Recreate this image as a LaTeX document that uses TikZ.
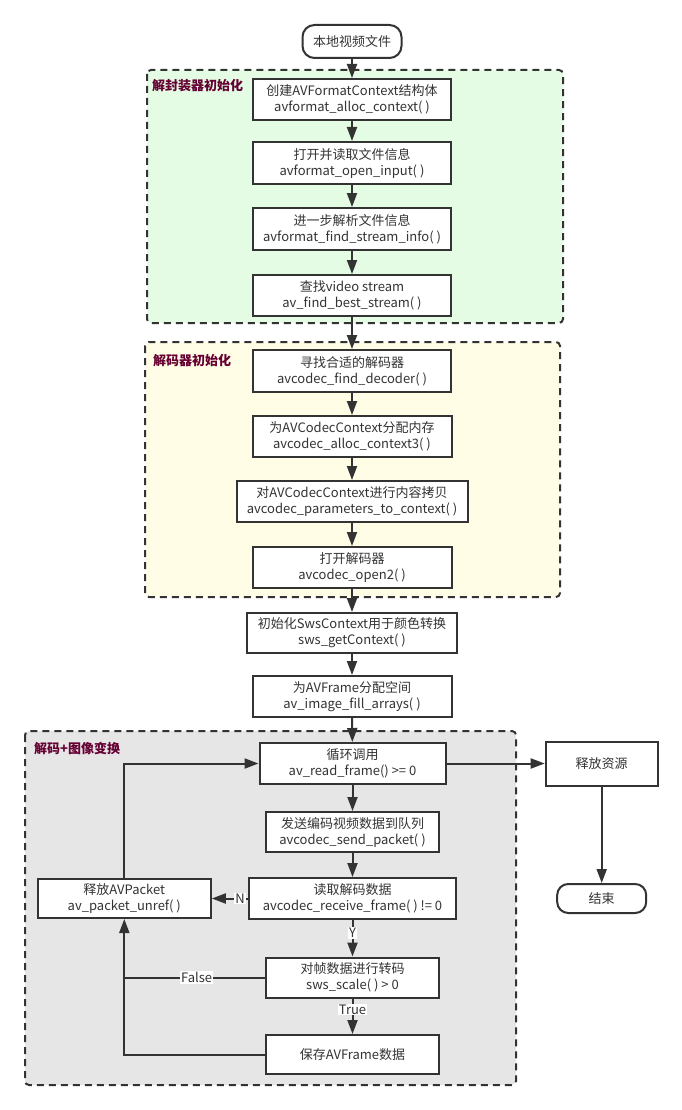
\documentclass[tikz,border=0pt]{standalone}
\usepackage{fontspec}
\setmainfont{Noto Sans CJK SC}
\usetikzlibrary{arrows.meta}
\definecolor{txt}{HTML}{333333}
\definecolor{ln}{HTML}{333333}
\definecolor{gA}{HTML}{E3FCE3}
\definecolor{gB}{HTML}{FFFDE6}
\definecolor{gC}{HTML}{E6E6E6}
\definecolor{ttl}{HTML}{660033}
\tikzset{
  stepbox/.style={draw=ln, line width=2pt, fill=white, inner sep=0pt, align=center,
    text=txt, font=\fontsize{13}{16}\selectfont},
  termbox/.style={stepbox, rounded corners=12pt},
  grp/.style={draw=ln, line width=2pt, dash pattern=on 7pt off 5pt, rounded corners=4pt},
  grptitle/.style={anchor=west, inner sep=0pt, text=ttl, font=\fontsize{13}{16}\selectfont\bfseries},
  arr/.style={draw=ln, line width=2pt, -{Triangle[length=14pt,width=10pt]}},
  plain/.style={draw=ln, line width=2pt},
  lbl/.style={fill=white, inner sep=1pt, text=txt, font=\fontsize{13}{15}\selectfont}
}
\begin{document}
\begin{tikzpicture}[x=1pt,y=-1pt]
\useasboundingbox[fill=white] (0,0) rectangle (682,1110);
% groups
\draw[grp, fill=gA] (147,70) rectangle (563,323);
\draw[grp, fill=gB] (145,342) rectangle (560,597);
\draw[grp, fill=gC] (25,731) rectangle (516,1085);
\node[grptitle] (t1) at (152,86) {解封装器初始化};
\node[grptitle] (t2) at (153,361) {解码器初始化};
\node[grptitle] (t3) at (34,748) {解码+图像变换};
% nodes
\node[termbox, minimum width=99pt, minimum height=33pt] (start) at (352,41.5) {本地视频文件};
\node[stepbox, minimum width=198pt, minimum height=41pt] (b1) at (352,99.5) {创建AVFormatContext结构体\\avformat\_alloc\_context( )};
\node[stepbox, minimum width=198pt, minimum height=42pt] (b2) at (352,163) {打开并读取文件信息\\avformat\_open\_input( )};
\node[stepbox, minimum width=198pt, minimum height=42pt] (b3) at (352,229) {进一步解析文件信息\\avformat\_find\_stream\_info( )};
\node[stepbox, minimum width=198pt, minimum height=41pt] (b4) at (352,295.5) {查找video stream\\av\_find\_best\_stream( )};
\node[stepbox, minimum width=198pt, minimum height=42pt] (b5) at (352,371) {寻找合适的解码器\\avcodec\_find\_decoder( )};
\node[stepbox, minimum width=199pt, minimum height=41pt] (b6) at (352,436.5) {为AVCodecContext分配内存\\avcodec\_alloc\_context3( )};
\node[stepbox, minimum width=231pt, minimum height=41pt] (b7) at (352,501.5) {对AVCodecContext进行内容拷贝\\avcodec\_parameters\_to\_context( )};
\node[stepbox, minimum width=199pt, minimum height=41pt] (b8) at (352,567.5) {打开解码器\\avcodec\_open2( )};
\node[stepbox, minimum width=210pt, minimum height=40pt] (b9) at (352,633) {初始化SwsContext用于颜色转换\\sws\_getContext( )};
\node[stepbox, minimum width=199pt, minimum height=41pt] (b10) at (352,696.5) {为AVFrame分配空间\\av\_image\_fill\_arrays( )};
\node[stepbox, minimum width=186pt, minimum height=41pt] (b11) at (352.5,763.5) {循环调用\\av\_read\_frame() >= 0};
\node[stepbox, minimum width=173pt, minimum height=40pt] (b12) at (352.5,832) {发送编码视频数据到队列\\avcodec\_send\_packet( )};
\node[stepbox, minimum width=207pt, minimum height=41pt] (b13) at (352.5,898.5) {读取解码数据\\avcodec\_receive\_frame( ) != 0};
\node[stepbox, minimum width=173pt, minimum height=40pt] (b15) at (352.5,977.5) {对帧数据进行转码\\sws\_scale( ) > 0};
\node[stepbox, minimum width=173pt, minimum height=39pt] (b16) at (352.5,1054.5) {保存AVFrame数据};
\node[stepbox, minimum width=173pt, minimum height=39pt] (b14) at (124.3,898.5) {释放AVPacket\\av\_packet\_unref( )};
\node[stepbox, minimum width=112pt, minimum height=44pt] (res) at (601.7,763.5) {释放资源};
\node[termbox, minimum width=89pt, minimum height=29pt, rounded corners=11pt] (end) at (601.7,898.5) {结束};
% connectors
\draw[arr] (start) -- (b1);
\draw[arr] (b1) -- (b2);
\draw[arr] (b2) -- (b3);
\draw[arr] (b3) -- (b4);
\draw[arr] (b4) -- (b5);
\draw[arr] (b5) -- (b6);
\draw[arr] (b6) -- (b7);
\draw[arr] (b7) -- (b8);
\draw[arr] (b8) -- (b9);
\draw[arr] (b9) -- (b10);
\draw[arr] (b10) -- (b11);
\draw[arr] (b11) -- (b12);
\draw[arr] (b12) -- (b13);
\draw[arr] (b13) -- node[lbl, pos=0.36] {Y} (b15);
\draw[arr] (b15) -- node[lbl, pos=0.31] {True} (b16);
\draw[arr] (b13.west) -- node[lbl, pos=0.22] {N} (b13.west -| b14.east);
\draw[arr] (b14.north) |- (b11.west);
\draw[plain] (b15.west) -- node[lbl, pos=0.486] {False} (b15.west -| b14.south);
\draw[arr] (b16.west) -| (b14.south);
\draw[arr] (b11.east) -- (b11.east -| res.west);
\draw[arr] (res) -- (end);
\end{tikzpicture}
\end{document}
